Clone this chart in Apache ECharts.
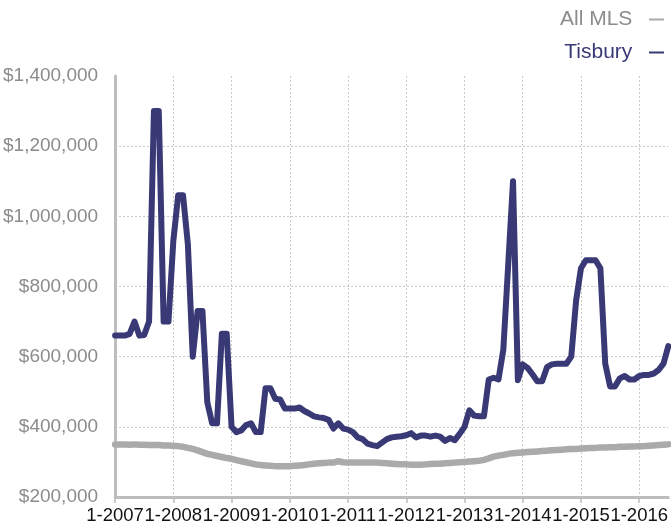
<!DOCTYPE html>
<html>
<head>
<meta charset="utf-8">
<script src="https://cdn.jsdelivr.net/npm/echarts@6/dist/echarts.min.js"></script>
<style>
  html, body { margin: 0; padding: 0; background: #fff; }
  #main { width: 671px; height: 531px; }
</style>
</head>
<body>
<div id="main"></div>
<script>
// monthly median sale price, Jan 2007 .. Jul 2016 (values in $1000)
const startYear = 2007;
const monthCount = 115;

const allMls = [
  350, 350, 350, 349, 350, 349, 349, 348, 348, 348, 347, 347, 346, 345, 343, 340,
  337, 333, 328, 323, 320, 317, 314, 311, 309, 305, 302, 299, 296, 293, 291, 290,
  289, 288, 288, 288, 288, 289, 290, 291, 293, 295, 296, 297, 298, 298, 302, 299,
  298, 298, 298, 298, 298, 298, 298, 297, 296, 295, 294, 293, 293, 292, 292, 292,
  293, 294, 295, 295, 296, 297, 298, 299, 300, 301, 302, 303, 306, 310, 315, 318,
  320, 323, 325, 326, 327, 328, 329, 330, 331, 332, 333, 334, 335, 336, 337, 337,
  338, 339, 340, 340, 341, 341, 342, 342, 343, 343, 344, 344, 345, 345, 346, 347,
  348, 349, 350
];

const tisbury = [
  660, 660, 660, 665, 700, 660, 662, 700, 1300, 1300, 700, 700, 930, 1060, 1060, 920,
  600, 730, 730, 470, 410, 410, 665, 665, 400, 385, 390, 405, 410, 385, 385, 510,
  510, 480, 478, 452, 452, 452, 455, 445, 438, 430, 427, 425, 420, 395, 410, 395,
  392, 385, 370, 365, 352, 348, 345, 355, 365, 370, 372, 373, 376, 382, 370, 375,
  375, 372, 375, 372, 360, 368, 362, 380, 400, 447, 432, 430, 430, 535, 540, 535,
  620, 860, 1100, 533, 578, 568, 550, 530, 530, 570, 578, 580, 580, 580, 600, 760,
  852, 875, 875, 875, 852, 580, 515, 515, 538, 545, 535, 535, 545, 548, 548, 552,
  562, 580, 630
];

const yTicks = [200000, 400000, 600000, 800000, 1000000, 1200000, 1400000];

const months = [];
for (let i = 0; i < monthCount; i++) {
  months.push((i % 12 + 1) + '-' + (startYear + Math.floor(i / 12)));
}

const FONT = '"Liberation Sans", Helvetica, Arial, sans-serif';
const NAVY = '#393976';
const GREY = '#aaaaaa';

const chart = echarts.init(document.getElementById('main'));
const yearOnly = i => i % 12 === 0;

chart.setOption({
  animation: false,
  textStyle: { fontFamily: FONT },
  legend: {
    orient: 'vertical',
    right: 2,
    top: 4,
    align: 'right',
    itemGap: 12,
    itemWidth: 15,
    itemHeight: 2,
    icon: 'rect',
    formatter: name => name + '  ',
    textStyle: { fontSize: 21, fontFamily: FONT },
    data: [
      { name: 'All MLS', textStyle: { color: '#8c8c8c' } },
      { name: 'Tisbury', textStyle: { color: NAVY } }
    ]
  },
  grid: { left: 115, top: 76, bottom: 34, width: 556 },
  xAxis: {
    type: 'category',
    boundaryGap: false,
    data: months,
    axisLine: { lineStyle: { color: '#bdbdbd', width: 3 } },
    axisTick: { interval: yearOnly, length: 6, lineStyle: { color: '#bdbdbd', width: 1.5 } },
    axisLabel: {
      interval: yearOnly, showMinLabel: true, showMaxLabel: true,
      color: '#111', fontSize: 18.5, margin: 9, fontFamily: FONT
    },
    splitLine: { show: true, interval: yearOnly, lineStyle: { color: '#c8c8c8', type: [2, 2], width: 1 } }
  },
  yAxis: {
    type: 'value',
    min: yTicks[0],
    max: yTicks[yTicks.length - 1],
    interval: yTicks[1] - yTicks[0],
    axisLine: { show: true, lineStyle: { color: '#bdbdbd', width: 3 } },
    axisTick: { show: false },
    axisLabel: {
      color: '#8c8c8c', fontSize: 19, margin: 17, fontFamily: FONT,
      formatter: v => '$' + v.toLocaleString('en-US')
    },
    splitLine: { show: true, showMaxLine: false, lineStyle: { color: '#c8c8c8', type: [2, 2], width: 1 } }
  },
  series: [
    {
      name: 'All MLS',
      type: 'line',
      data: allMls.map(v => v * 1000),
      symbol: 'none',
      color: GREY,
      lineStyle: { width: 6.5, color: GREY, cap: 'round', join: 'round' }
    },
    {
      name: 'Tisbury',
      type: 'line',
      data: tisbury.map(v => v * 1000),
      symbol: 'none',
      color: NAVY,
      lineStyle: { width: 6, color: NAVY, cap: 'round', join: 'round' }
    }
  ]
});
</script>
</body>
</html>
